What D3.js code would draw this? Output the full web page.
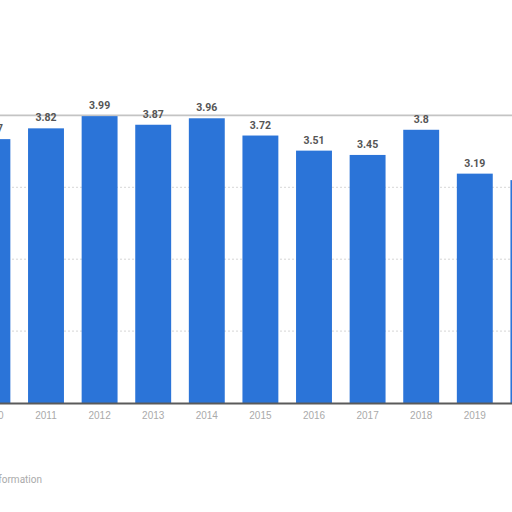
<!DOCTYPE html>
<html>
<head>
<meta charset="utf-8">
<script src="https://cdn.jsdelivr.net/npm/d3@7"></script>
<style>
  html, body { margin: 0; padding: 0; background: #fff; }
  svg { display: block; font-family: Roboto, "Open Sans", sans-serif; }
</style>
</head>
<body>
<svg id="chart"></svg>
<script>
// data (chart is cropped at both sides)
const years = ['2010', '2011', '2012', '2013', '2014', '2015', '2016', '2017', '2018', '2019', '2020'];
const values = [3.67, 3.82, 3.99, 3.87, 3.96, 3.72, 3.51, 3.45, 3.8, 3.19, 3.1];
const yTicks = [1, 2, 3, 4];

const W = 512, H = 512;
const baseY = 403, topY = 115.4;

const svg = d3.select('#chart')
  .attr('width', W)
  .attr('height', H)
  .attr('viewBox', `0 0 ${W} ${H}`);

const x = d3.scaleBand()
  .domain(years)
  .range([-34.4, 555.2])
  .paddingInner(0.33)
  .paddingOuter(0.165);

const y = d3.scaleLinear()
  .domain([0, 4])
  .range([baseY, topY]);

// grid
const grid = svg.append('g').attr('class', 'grid');
grid.selectAll('line')
  .data(yTicks)
  .join('line')
    .attr('x1', 0)
    .attr('x2', W)
    .attr('y1', d => y(d))
    .attr('y2', d => y(d))
    .attr('stroke', d => d === 4 ? '#c4c4c4' : '#d6d6d6')
    .attr('stroke-width', d => d === 4 ? 1.6 : 1)
    .attr('stroke-dasharray', d => d === 4 ? null : '2,2');

// bars
svg.append('g').attr('class', 'bars')
  .selectAll('rect')
  .data(values)
  .join('rect')
    .attr('x', (d, i) => x(years[i]))
    .attr('y', d => y(d))
    .attr('width', x.bandwidth())
    .attr('height', d => baseY - y(d))
    .attr('fill', '#2b74d8');

// value labels
svg.append('g').attr('class', 'labels')
  .selectAll('text')
  .data(values)
  .join('text')
    .attr('x', (d, i) => x(years[i]) + x.bandwidth() / 2)
    .attr('y', d => y(d) - 7)
    .attr('text-anchor', 'middle')
    .attr('font-size', 10.5)
    .attr('font-weight', 'bold')
    .attr('fill', '#555')
    .text(d => d);

// x axis
const xAxis = svg.append('g')
  .attr('class', 'axis--x')
  .attr('transform', `translate(0, ${baseY})`)
  .call(d3.axisBottom(x).tickSize(0).tickPadding(9));
xAxis.select('.domain')
  .attr('stroke', '#5a5a5a')
  .attr('stroke-width', 2)
  .attr('d', `M0,0.5H${W}`);
xAxis.selectAll('text')
  .attr('font-size', 10)
  .attr('fill', '#aaa');

// footer
svg.append('text')
  .attr('x', 42)
  .attr('y', 483)
  .attr('text-anchor', 'end')
  .attr('font-size', 10)
  .attr('fill', '#aaa')
  .text('Additional Information');
</script>
</body>
</html>
